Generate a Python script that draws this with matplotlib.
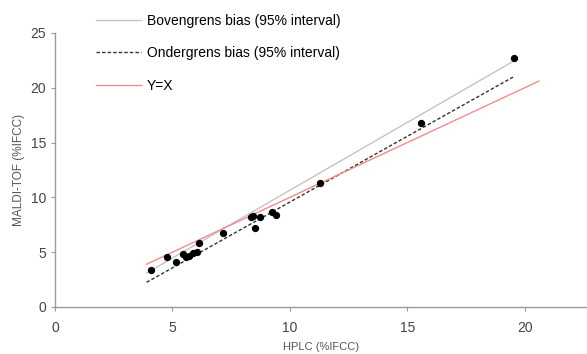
import matplotlib
matplotlib.use('Agg')
import matplotlib.pyplot as plt
import numpy as np

plt.rcParams['font.family'] = ['Liberation Sans', 'DejaVu Sans']

# HbA1c metingen: HPLC vs MALDI-TOF (%IFCC)
hplc = [4.07, 4.75, 5.15, 5.46, 5.57, 5.72, 5.86, 6.03, 6.14, 7.16,
        8.33, 8.44, 8.52, 8.74, 9.23, 9.43, 11.3, 15.57, 19.55]
maldi = [3.38, 4.59, 4.08, 4.84, 4.59, 4.65, 4.95, 5.05, 5.81, 6.72,
         8.18, 8.30, 7.21, 8.24, 8.64, 8.39, 11.28, 16.79, 22.75]

# lijnen: (helling, intercept, x_start, x_eind)
bovengrens = (1.237, -1.72, 3.9, 19.5)
ondergrens = (1.20, -2.43, 3.9, 19.5)
yx_lijn = (1.0, 0.0, 3.9, 20.6)

labels = ['Bovengrens bias (95% interval)', 'Ondergrens bias (95% interval)', 'Y=X']

fig = plt.figure(figsize=(5.87, 3.54), dpi=100)
ax = fig.add_axes([0.0937, 0.1328, 0.9063, 0.7742])


def lijn(params):
    a, b, x0, x1 = params
    x = np.array([x0, x1])
    return x, a * x + b


x, y = lijn(bovengrens)
l1, = ax.plot(x, y, color='#c4c4c4', lw=1.0)
x, y = lijn(ondergrens)
l2, = ax.plot(x, y, color='#333333', lw=1.0, ls=(0, (2.5, 1.5)))
x, y = lijn(yx_lijn)
l3, = ax.plot(x, y, color='#f28c8c', lw=1.0)

ax.scatter(hplc, maldi, s=18, color='black', zorder=5)

ax.set_xlim(0, 22.65)
ax.set_ylim(0, 25)
ax.set_xticks([0, 5, 10, 15, 20])
ax.set_yticks([0, 5, 10, 15, 20, 25])

for s in ['top', 'right']:
    ax.spines[s].set_visible(False)
for s in ['left', 'bottom']:
    ax.spines[s].set_color('#999999')
    ax.spines[s].set_linewidth(1.0)
ax.tick_params(colors='#999999', labelcolor='#444444', labelsize=10, length=3)
ax.tick_params(axis='x', pad=7)

ax.set_xlabel('HPLC (%IFCC)', fontsize=8, color='#555555', labelpad=5)
ax.set_ylabel('MALDI-TOF (%IFCC)', fontsize=8.5, color='#555555', labelpad=4)

fig.legend([l1, l2, l3], labels, loc='upper left', bbox_to_anchor=(0.143, 0.997),
           frameon=False, fontsize=10, handlelength=3.2, handletextpad=0.45,
           labelspacing=1.34)

fig.savefig('out.png', dpi=100)
